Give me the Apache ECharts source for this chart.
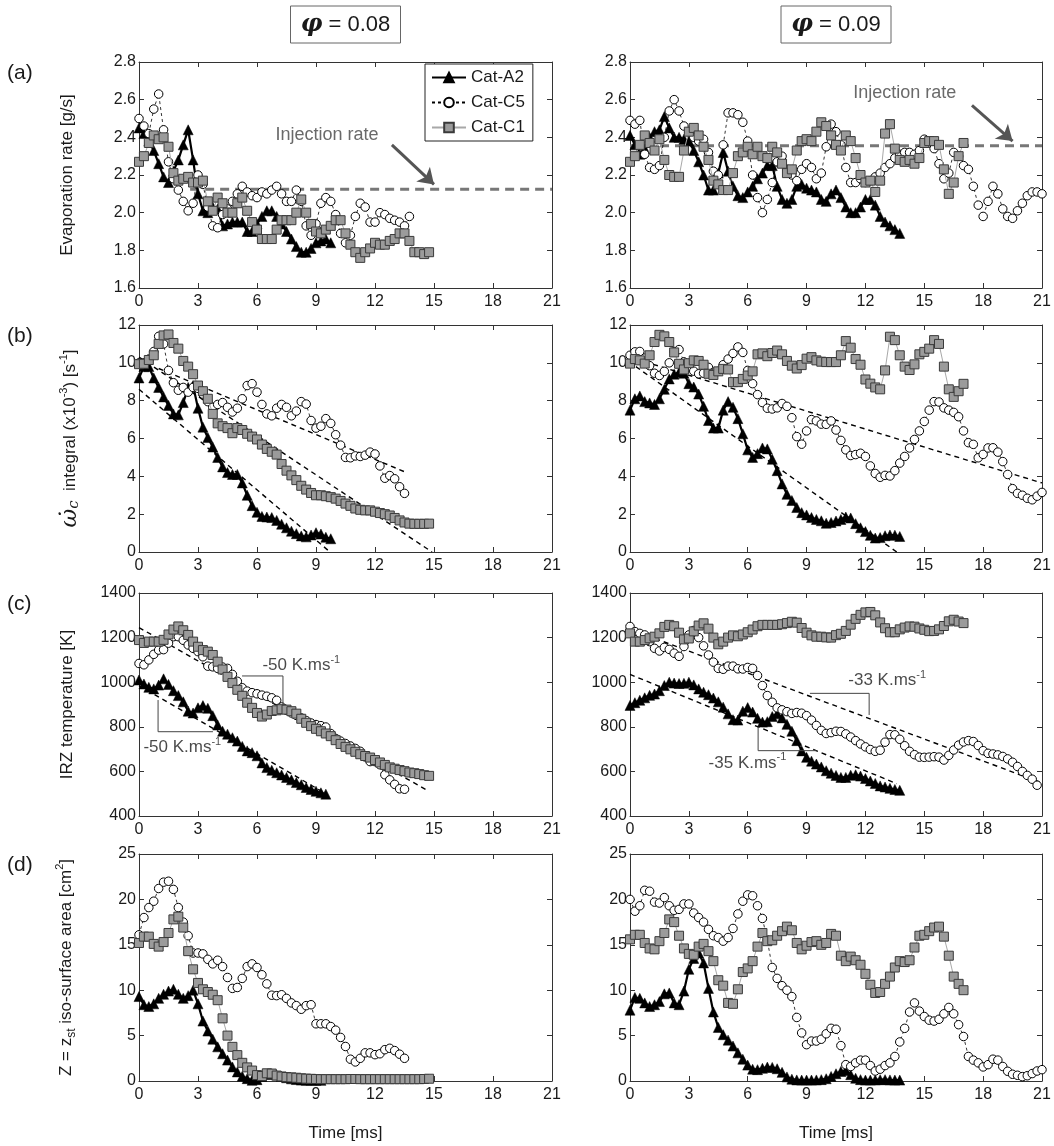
<!DOCTYPE html>
<html>
<head>
<meta charset="utf-8">
<title>Evaporation, reaction rate, IRZ temperature and iso-surface area</title>
<script src="https://cdn.jsdelivr.net/npm/echarts@6/dist/echarts.min.js"></script>
<style>
  html, body { margin: 0; padding: 0; background: #fff; }
  #chart { width: 1054px; height: 1146px; }
</style>
</head>
<body>
<div id="chart"></div>
<script>
// ---------------------------------------------------------------------------
// Data: every series is sampled every DT ms starting at t = 0
// ---------------------------------------------------------------------------
const DT = 0.25;
const seriesNames = ['Cat-A2', 'Cat-C5', 'Cat-C1'];
const timeAxis = [0, 21, 3];            // min, max, interval [ms]
const evapAxis = [1.6, 2.8, 0.2];       // g/s
const rateAxis = [0, 12, 2];            // x1e-3 s^-1
const tempAxis = [400, 1400, 200];      // K
const areaAxis = [0, 25, 5];            // cm^2

// (a) evaporation rate [g/s]
const evapA2_08 = [2.45,2.42,2.38,2.33,2.26,2.19,2.16,2.22,2.28,2.36,2.44,2.28,2.10,2.01,2.00,2.03,2.02,1.93,1.94,1.95,1.95,1.95,1.90,1.90,1.94,1.98,2.01,2.01,1.98,1.94,1.90,1.86,1.82,1.79,1.79,1.81,1.84,1.85,1.86,1.84];
const evapC5_08 = [2.50,2.46,2.42,2.55,2.63,2.44,2.27,2.18,2.12,2.06,2.01,2.05,2.20,2.15,2.03,1.93,1.92,1.99,2.02,2.06,2.10,2.14,2.11,2.09,2.08,2.11,2.10,2.12,2.14,2.10,2.06,2.06,2.12,2.06,1.93,1.88,1.94,2.05,2.08,2.06,1.99,1.89,1.84,1.88,1.98,2.05,2.03,1.95,1.95,2.00,1.99,1.97,1.96,1.95,1.93,1.98];
const evapC1_08 = [2.27,2.30,2.37,2.41,2.39,2.40,2.35,2.21,2.17,2.18,2.19,2.16,2.16,2.17,2.06,2.01,2.08,2.05,2.00,2.00,2.05,2.08,2.01,1.95,1.91,1.86,1.86,1.86,1.91,1.96,1.96,1.96,2.00,2.07,2.00,1.94,1.90,1.89,1.91,1.93,1.96,1.96,1.89,1.83,1.79,1.76,1.79,1.81,1.84,1.83,1.83,1.85,1.86,1.89,1.89,1.85,1.79,1.79,1.78,1.79];
const evapA2_09 = [2.41,2.36,2.31,2.34,2.40,2.43,2.44,2.51,2.45,2.40,2.40,2.39,2.38,2.33,2.27,2.20,2.12,2.12,2.21,2.32,2.22,2.14,2.09,2.08,2.11,2.14,2.18,2.21,2.25,2.25,2.14,2.07,2.05,2.07,2.14,2.15,2.13,2.12,2.11,2.07,2.06,2.10,2.12,2.08,2.03,2.00,2.00,2.03,2.07,2.07,2.04,1.98,1.95,1.93,1.91,1.89];
const evapC5_09 = [2.49,2.47,2.49,2.31,2.24,2.23,2.25,2.40,2.54,2.60,2.54,2.46,2.43,2.40,2.38,2.39,2.32,2.22,2.20,2.36,2.53,2.53,2.52,2.48,2.38,2.20,2.08,2.00,2.07,2.16,2.27,2.30,2.23,2.20,2.17,2.23,2.26,2.24,2.18,2.21,2.35,2.47,2.43,2.36,2.24,2.16,2.16,2.18,2.16,2.17,2.19,2.21,2.24,2.26,2.29,2.31,2.32,2.32,2.31,2.33,2.39,2.37,2.34,2.26,2.18,2.21,2.32,2.30,2.25,2.23,2.14,2.04,1.98,2.06,2.14,2.10,2.02,1.98,1.97,2.01,2.05,2.09,2.11,2.11,2.10];
const evapC1_09 = [2.27,2.30,2.36,2.41,2.37,2.33,2.39,2.28,2.20,2.19,2.19,2.33,2.43,2.45,2.41,2.35,2.28,2.17,2.15,2.12,2.12,2.21,2.30,2.32,2.35,2.31,2.35,2.30,2.29,2.35,2.32,2.26,2.21,2.23,2.33,2.38,2.39,2.38,2.43,2.48,2.46,2.41,2.36,2.33,2.41,2.38,2.29,2.20,2.16,2.17,2.11,2.17,2.42,2.47,2.34,2.28,2.27,2.28,2.26,2.29,2.37,2.38,2.38,2.36,2.23,2.10,2.16,2.30,2.37];
const injectionRate = [2.125, 2.355];
const injectionStart = [2.6, 0];

// (b) integrated reaction rate (x1e-3) [s^-1]
const rateA2_08 = [9.2,9.8,9.8,9.2,8.7,8.2,7.75,7.3,7.25,7.9,8.7,8.8,7.6,6.6,6.05,5.55,5.0,4.5,4.2,4.1,4.1,3.65,3.0,2.45,2.1,1.88,1.85,1.82,1.67,1.47,1.28,1.1,0.97,0.85,0.8,0.9,1.02,0.95,0.78,0.7];
const rateC5_08 = [10.0,10.0,10.2,10.6,11.4,11.0,9.6,8.95,8.55,8.7,8.45,8.7,8.65,8.35,7.95,7.65,7.8,7.9,7.65,7.4,7.6,8.1,8.8,8.9,8.45,7.8,7.3,7.2,7.6,7.8,7.65,7.2,7.45,7.95,7.82,6.95,6.55,6.65,7.05,6.8,6.2,5.65,5.0,4.98,5.08,5.05,5.12,5.28,5.18,4.55,3.9,4.04,3.87,3.45,3.1];
const rateC1_08 = [9.93,9.95,10.15,10.4,11.0,11.45,11.5,11.05,10.75,10.1,9.8,9.4,8.8,8.5,8.1,7.3,6.8,6.65,6.55,6.28,6.55,6.45,6.25,6.1,5.95,5.68,5.45,5.3,5.15,4.65,4.3,4.05,3.8,3.5,3.3,3.12,3.0,3.0,2.95,2.9,2.82,2.7,2.56,2.44,2.3,2.23,2.2,2.2,2.13,2.06,2.0,1.93,1.8,1.67,1.56,1.5,1.49,1.49,1.49,1.5];
const rateA2_09 = [7.5,8.1,8.25,7.95,7.88,7.8,8.1,8.6,9.15,9.4,9.5,9.45,8.9,8.72,8.35,7.7,6.95,6.55,6.55,7.5,7.95,7.65,7.05,6.25,5.4,5.0,5.2,5.5,5.45,4.9,4.3,3.6,3.05,2.72,2.35,2.08,1.96,1.82,1.72,1.65,1.52,1.56,1.64,1.72,1.85,1.8,1.5,1.28,1.08,0.88,0.74,0.76,0.86,0.9,0.89,0.82];
const rateC5_09 = [10.4,10.58,10.6,10.25,9.85,9.45,9.33,9.55,10.0,10.6,10.7,10.05,9.75,9.56,9.42,9.45,9.76,9.5,9.55,9.9,10.2,10.5,10.84,10.55,9.6,8.9,8.32,7.9,7.6,7.56,7.62,7.85,7.7,7.1,6.1,5.7,6.4,7.0,6.93,6.76,6.75,6.93,6.45,5.9,5.4,5.1,5.15,5.22,5.05,4.55,4.15,3.95,4.05,4.02,4.3,4.7,5.05,5.5,5.95,6.4,6.9,7.5,7.95,7.93,7.62,7.5,7.38,7.15,6.4,5.78,5.69,4.98,5.16,5.5,5.51,5.28,4.78,4.1,3.35,3.1,3.0,2.84,2.76,2.95,3.15];
const rateC1_09 = [9.96,10.2,10.13,9.96,10.4,11.1,11.48,11.4,11.1,10.55,9.95,9.65,9.98,10.13,10.1,9.9,9.42,9.36,9.55,9.68,9.65,8.98,8.98,9.15,9.33,9.55,10.45,10.5,10.35,10.52,10.65,10.45,10.1,9.85,9.7,9.88,10.22,10.3,10.13,10.06,10.04,10.04,10.04,10.4,11.15,10.8,10.2,9.9,9.12,8.9,8.7,8.6,9.6,11.38,11.2,10.4,9.8,9.62,9.92,10.45,10.58,10.75,11.2,11.0,9.8,8.6,8.2,8.5,8.89];
const rateTrends08 = [[[0, 8.6], [9.6, 0.1]], [[0, 10.3], [14.9, 0]], [[1.0, 9.7], [13.6, 4.2]]];
const rateTrends09 = [[[0.3, 9.8], [13.6, 0]], [[0.3, 10.2], [21, 3.65]]];

// (c) IRZ temperature [K]
const tempA2_08 = [1010,992,977,970,987,1015,990,962,940,912,870,862,885,895,883,850,808,780,767,751,736,712,692,684,670,638,617,605,594,584,573,562,550,540,528,519,511,504,498];
const tempC5_08 = [1084,1078,1100,1125,1144,1146,1175,1204,1204,1188,1167,1152,1137,1114,1072,1069,1062,1068,1062,1035,1004,975,960,953,948,942,937,930,919,889,874,862,851,840,828,817,810,805,799,770,748,736,725,714,703,690,665,644,644,630,585,562,542,522,520];
const tempC1_08 = [1189,1176,1182,1182,1182,1190,1214,1236,1250,1233,1212,1182,1159,1144,1137,1122,1092,1057,1024,996,966,939,908,885,862,846,855,871,874,879,877,870,859,836,818,803,791,780,770,758,740,723,710,699,688,677,669,662,651,640,629,618,612,606,601,595,592,588,583,580];
const tempA2_09 = [896,908,919,930,941,947,962,985,1000,996,994,995,1000,988,970,955,944,929,912,888,858,832,830,870,886,866,838,821,823,846,858,840,811,780,738,692,663,646,633,620,603,592,582,573,573,583,585,579,568,557,546,535,530,524,519,515];
const tempC5_09 = [1250,1227,1219,1212,1182,1152,1140,1156,1147,1130,1116,1160,1212,1232,1200,1163,1122,1090,1062,1058,1072,1072,1060,1059,1066,1062,1030,985,940,910,885,876,868,860,864,861,850,830,806,784,770,774,780,779,768,754,738,723,710,698,690,695,731,765,764,744,715,690,675,664,663,664,666,664,651,672,696,718,732,738,734,716,693,681,678,674,667,656,641,622,600,582,565,538];
const tempC1_09 = [1219,1182,1182,1189,1197,1204,1219,1248,1257,1251,1222,1192,1196,1228,1254,1264,1240,1200,1170,1182,1200,1210,1206,1214,1224,1236,1251,1257,1257,1257,1257,1260,1265,1271,1267,1243,1222,1210,1204,1204,1201,1200,1211,1217,1230,1258,1284,1302,1313,1315,1300,1268,1242,1224,1224,1237,1245,1250,1249,1241,1235,1229,1230,1237,1252,1273,1280,1272,1265];
const tempTrends08 = [[[0, 1245], [14.7, 513]], [[0, 985], [9.5, 500]]];
const tempTrends09 = [[[0, 1238], [21, 548]], [[0, 1035], [13.6, 545]]];
// slope labels: text, label anchor, guide path (all in data units)
const tempSlopes08 = [
  { value: '-50', at: [6.25, 1077], path: [[5.24, 1028], [7.32, 1028], [7.32, 895]] },
  { value: '-50', at: [0.2, 709], path: [[0.97, 920], [0.97, 778], [3.76, 778]] }
];
const tempSlopes09 = [
  { value: '-33', at: [11.1, 1010], path: [[9.17, 950], [12.19, 950], [12.19, 853]] },
  { value: '-35', at: [3.98, 638], path: [[6.53, 800], [6.53, 693], [9.5, 693]] }
];

// (d) stoichiometric iso-surface area [cm^2]
const areaA2_08 = [9.3,8.4,8.2,8.5,9.1,9.55,9.9,10.1,9.55,9.1,9.4,10.0,8.5,6.6,5.5,4.6,3.76,3.0,2.3,1.55,1.0,0.52,0.26,0.08,0.15,0.5,0.72,0.8,0.65,0.5,0.36,0.24,0.16,0.1,0.07,0.07,0.07,0.07];
const areaC5_08 = [16.1,18.0,19.1,19.8,21.2,21.9,22.0,21.1,19.1,17.5,16.0,14.1,14.1,14.0,13.4,12.9,13.3,12.6,11.4,10.2,10.3,11.3,12.6,12.9,12.5,11.7,10.7,9.45,9.4,9.5,9.1,8.6,8.3,7.9,8.3,8.4,6.3,6.3,6.3,6.0,5.6,4.8,3.8,2.4,2.1,2.5,3.1,3.1,2.9,3.0,3.45,3.6,3.35,2.95,2.5];
const areaC1_08 = [15.2,15.9,15.9,15.1,14.8,15.3,16.3,17.8,18.1,16.9,14.3,12.3,10.8,10.1,9.8,9.5,8.9,6.9,5.0,3.76,2.85,2.0,1.5,1.15,0.65,0.55,0.85,0.82,0.6,0.5,0.44,0.4,0.36,0.3,0.26,0.24,0.22,0.2,0.2,0.2,0.2,0.2,0.2,0.22,0.22,0.2,0.2,0.2,0.2,0.2,0.2,0.2,0.2,0.2,0.2,0.2,0.2,0.2,0.22,0.25];
const areaA2_09 = [7.8,9.2,9.1,8.6,8.2,8.4,8.75,9.6,9.7,8.6,8.4,9.9,12.3,13.5,14.1,13.0,10.2,7.6,5.9,5.1,4.5,3.85,3.1,2.4,1.75,1.3,1.25,1.4,1.53,1.5,1.35,0.95,0.45,0.2,0.12,0.1,0.1,0.1,0.12,0.15,0.25,0.5,0.8,1.05,1.15,0.7,0.3,0.15,0.1,0.1,0.12,0.15,0.15,0.12,0.1,0.1];
const areaC5_09 = [20.0,18.7,19.3,21.0,20.9,19.7,19.6,20.2,19.3,18.8,18.9,19.5,19.5,18.5,18.0,17.5,16.7,16.0,15.8,15.4,15.8,16.8,18.4,19.8,20.5,20.4,19.3,17.9,15.5,12.5,11.3,10.5,10.0,9.3,7.0,5.3,4.0,4.4,4.4,4.6,5.2,5.8,5.7,3.9,1.8,1.6,2.0,2.3,2.3,1.7,1.1,1.3,1.7,2.0,2.7,4.3,5.8,7.6,8.6,7.7,7.1,6.7,6.6,6.8,7.4,8.1,7.4,6.2,4.9,2.7,2.3,2.0,1.55,1.8,2.4,2.3,1.6,1.07,0.74,0.63,0.48,0.58,0.82,1.1,1.25];
const areaC1_09 = [15.6,16.1,16.1,15.2,14.6,14.5,15.4,16.3,17.8,17.5,16.0,14.6,14.0,13.9,14.8,15.1,14.3,13.2,11.1,10.5,8.6,8.5,10.1,12.0,12.4,13.2,14.8,16.3,15.4,15.5,16.0,16.5,17.0,16.6,15.2,14.5,14.9,15.3,15.4,15.0,15.2,16.2,16.0,13.8,13.2,13.7,13.3,12.8,11.8,10.6,9.7,9.8,10.7,11.5,12.5,13.2,13.1,13.3,14.7,16.0,16.1,16.5,16.9,17.0,15.9,13.8,11.5,10.7,10.0];

// ---------------------------------------------------------------------------
// Layout and styling
// ---------------------------------------------------------------------------
const FONT = '"Liberation Sans", Arial, sans-serif';
const INK = '#1a1a1a';
const FRAME = '#333';
const COLS = [{ left: 139, width: 413 }, { left: 630, width: 412 }];
const ROWS = [
  { top: 62,  height: 226, axis: evapAxis, digits: 1 },
  { top: 325, height: 227, axis: rateAxis, digits: 0 },
  { top: 593, height: 223, axis: tempAxis, digits: 0 },
  { top: 854, height: 227, axis: areaAxis, digits: 0 }
];

const toPoints = values => values.map((v, i) => [i * DT, v]);

function xAxisFor(gi, position, showLabels) {
  return {
    gridIndex: gi, type: 'value', position,
    min: timeAxis[0], max: timeAxis[1], interval: timeAxis[2],
    axisLine: { show: true, onZero: false, lineStyle: { color: FRAME, width: 1 } },
    axisTick: { show: true, inside: true, length: 5, lineStyle: { color: FRAME, width: 1 } },
    axisLabel: { show: showLabels, color: INK, fontSize: 16, fontFamily: FONT, margin: 6 },
    splitLine: { show: false }
  };
}
function yAxisFor(gi, row, position, showLabels) {
  return {
    gridIndex: gi, type: 'value', position,
    min: row.axis[0], max: row.axis[1], interval: row.axis[2],
    axisLine: { show: true, onZero: false, lineStyle: { color: FRAME, width: 1 } },
    axisTick: { show: true, inside: true, length: 5, lineStyle: { color: FRAME, width: 1 } },
    axisLabel: { show: showLabels, color: INK, fontSize: 16, fontFamily: FONT, margin: 3,
                 formatter: v => Number(v).toFixed(row.digits) },
    splitLine: { show: false }
  };
}

const grids = [], xAxes = [], yAxes = [];
ROWS.forEach(row => COLS.forEach(col => {
  const gi = grids.length;
  grids.push({ left: col.left, top: row.top, width: col.width, height: row.height, containLabel: false });
  xAxes.push(xAxisFor(gi, 'bottom', true), xAxisFor(gi, 'top', false));
  yAxes.push(yAxisFor(gi, row, 'left', true), yAxisFor(gi, row, 'right', false));
}));

const onGrid = gi => ({ xAxisIndex: 2 * gi, yAxisIndex: 2 * gi });

function dataSeries(gi, a2, c5, c1) {
  const common = { type: 'line', ...onGrid(gi), showSymbol: true, showAllSymbol: true,
                   silent: true, emphasis: { disabled: true }, animation: false };
  return [
    { ...common, name: seriesNames[0], data: toPoints(a2), z: 3,
      symbol: 'triangle', symbolSize: 10,
      itemStyle: { color: '#000', borderColor: '#000', borderWidth: 0.5 },
      lineStyle: { color: '#000', width: 2.2 } },
    { ...common, name: seriesNames[1], data: toPoints(c5), z: 4,
      symbol: 'circle', symbolSize: 8.5,
      itemStyle: { color: '#fff', borderColor: '#000', borderWidth: 1 },
      lineStyle: { color: '#000', width: 0.8, type: [3, 3] } },
    { ...common, name: seriesNames[2], data: toPoints(c1), z: 5,
      symbol: 'rect', symbolSize: 9,
      itemStyle: { color: '#9b9b9b', borderColor: '#3a3a3a', borderWidth: 1 },
      lineStyle: { color: '#a8a8a8', width: 1 } }
  ];
}

function segment(gi, pts, lineStyle, z) {
  return { type: 'line', ...onGrid(gi), data: pts, symbol: 'none', silent: true,
           emphasis: { disabled: true }, lineStyle, z: z || 2, animation: false };
}
const trendStyle = { color: '#000', width: 1.4, type: [5, 4] };
const guideStyle = { color: '#444', width: 1, type: 'solid' };

function textAt(gi, point, formatter, position, rich, z) {
  return {
    type: 'scatter', ...onGrid(gi), data: [point], symbolSize: 1, silent: true,
    itemStyle: { color: 'transparent' }, emphasis: { disabled: true }, z: z || 10,
    label: { show: true, position, distance: 0, formatter, color: INK, fontFamily: FONT, rich }
  };
}
const slopeRich = {
  t: { fontSize: 17, fontFamily: FONT, color: INK, lineHeight: 22 },
  s: { fontSize: 11, fontFamily: FONT, color: INK, verticalAlign: 'top' }
};

const series = [];
const panelData = [
  [evapA2_08, evapC5_08, evapC1_08], [evapA2_09, evapC5_09, evapC1_09],
  [rateA2_08, rateC5_08, rateC1_08], [rateA2_09, rateC5_09, rateC1_09],
  [tempA2_08, tempC5_08, tempC1_08], [tempA2_09, tempC5_09, tempC1_09],
  [areaA2_08, areaC5_08, areaC1_08], [areaA2_09, areaC5_09, areaC1_09]
];

// (a) injection rate lines with pointer arrows and captions
const injectionArrows = [[[12.86, 2.36], [15.0, 2.15]], [[17.43, 2.57], [19.5, 2.38]]];
const injectionCaptions = [[9.56, 2.41], [14.0, 2.635]];
[0, 1].forEach(c => {
  const gi = c;
  const s = segment(gi, [[injectionStart[c], injectionRate[c]], [timeAxis[1], injectionRate[c]]],
                    { color: '#777', width: 3, type: [9, 6] }, 2);
  s.markLine = {
    silent: true, animation: false, symbol: ['none', 'arrow'], symbolSize: 15,
    label: { show: false }, emphasis: { disabled: true },
    lineStyle: { color: '#555', width: 3, type: 'solid' },
    data: [[{ coord: injectionArrows[c][0] }, { coord: injectionArrows[c][1] }]]
  };
  series.push(s);
  series.push(textAt(gi, injectionCaptions[c], '{c|Injection rate}', 'inside',
    { c: { fontSize: 18, fontFamily: FONT, color: '#444' } }));
});

// (b) linear trends
rateTrends08.forEach(t => series.push(segment(2, t, trendStyle, 2)));
rateTrends09.forEach(t => series.push(segment(3, t, trendStyle, 2)));

// (c) linear trends and slope guides
tempTrends08.forEach(t => series.push(segment(4, t, trendStyle, 2)));
tempTrends09.forEach(t => series.push(segment(5, t, trendStyle, 2)));
[[4, tempSlopes08], [5, tempSlopes09]].forEach(([gi, slopes]) => slopes.forEach(sl => {
  series.push(segment(gi, sl.path, guideStyle, 6));
  series.push(textAt(gi, sl.at, `{t|${sl.value} K.ms}{s|-1}`, 'right', slopeRich));
}));

// measured series on top
panelData.forEach((d, gi) => series.push(...dataSeries(gi, d[0], d[1], d[2])));

// ---------------------------------------------------------------------------
// Titles, panel letters and axis names
// ---------------------------------------------------------------------------
const graphic = [];
const colCenter = c => COLS[c].left + COLS[c].width / 2;
const rowCenter = r => ROWS[r].top + ROWS[r].height / 2;

['0.08', '0.09'].forEach((phi, c) => {
  const cx = colCenter(c);
  graphic.push({ type: 'rect', shape: { x: cx - 55, y: 6, width: 110, height: 37 },
                 style: { fill: '#fff', stroke: '#666', lineWidth: 1 }, silent: true });
  graphic.push({ type: 'text', x: cx, y: 25, silent: true,
    style: { text: `{p|\u03C6}{n| = ${phi}}`, align: 'center', verticalAlign: 'middle',
             textAlign: 'center', textVerticalAlign: 'middle',
             rich: { p: { fontSize: 24, fontFamily: '"DejaVu Serif", serif', fontStyle: 'italic', fontWeight: 'bold', fill: INK },
                     n: { fontSize: 22, fontFamily: FONT, fill: INK } } } });
  graphic.push({ type: 'text', x: cx, y: 1133, silent: true,
    style: { text: 'Time [ms]', fontSize: 17, fontFamily: FONT, fill: INK,
             align: 'center', verticalAlign: 'middle', textAlign: 'center', textVerticalAlign: 'middle' } });
});

['(a)', '(b)', '(c)', '(d)'].forEach((lab, r) => {
  graphic.push({ type: 'text', x: 7, y: ROWS[r].top + 11, silent: true,
    style: { text: lab, fontSize: 21, fontFamily: FONT, fill: INK,
             align: 'left', verticalAlign: 'middle', textAlign: 'left', textVerticalAlign: 'middle' } });
});

const nameRich = {
  n:   { fontSize: 17, fontFamily: FONT, fill: INK, lineHeight: 24 },
  w:   { fontSize: 23, fontFamily: '"DejaVu Serif", serif', fontStyle: 'italic', fill: INK, lineHeight: 24 },
  c:   { fontSize: 15, fontFamily: '"DejaVu Serif", serif', fontStyle: 'italic', fill: INK, verticalAlign: 'bottom' },
  sub: { fontSize: 12, fontFamily: FONT, fill: INK, verticalAlign: 'bottom' },
  sup: { fontSize: 11, fontFamily: FONT, fill: INK, verticalAlign: 'top' }
};
const axisNames = [
  '{n|Evaporation rate [g/s]}',
  '{w|\u03C9\u0307}{c|c}{n|  integral (x10}{sup|-3}{n|) [s}{sup|-1}{n|]}',
  '{n|IRZ temperature [K]}',
  '{n|Z = z}{sub|st}{n| iso-surface area [cm}{sup|2}{n|]}'
];
const nameX = [67, 70, 67, 66];
axisNames.forEach((txt, r) => {
  graphic.push({ type: 'text', x: nameX[r], y: rowCenter(r), rotation: Math.PI / 2, silent: true,
    style: { text: txt, rich: nameRich, align: 'center', verticalAlign: 'middle',
             textAlign: 'center', textVerticalAlign: 'middle' } });
});

// ---------------------------------------------------------------------------
const chart = echarts.init(document.getElementById('chart'), null, { renderer: 'canvas' });
chart.setOption({
  animation: false,
  backgroundColor: '#fff',
  tooltip: { show: false },
  grid: grids,
  xAxis: xAxes,
  yAxis: yAxes,
  legend: {
    data: seriesNames, orient: 'vertical', left: 425, top: 64,
    backgroundColor: '#fff', borderColor: '#222', borderWidth: 1,
    padding: [5, 8, 5, 6], itemGap: 8, itemWidth: 34, itemHeight: 12,
    selectedMode: false, z: 20,
    textStyle: { fontSize: 17, color: INK, fontFamily: FONT }
  },
  series,
  graphic
});
</script>
</body>
</html>
